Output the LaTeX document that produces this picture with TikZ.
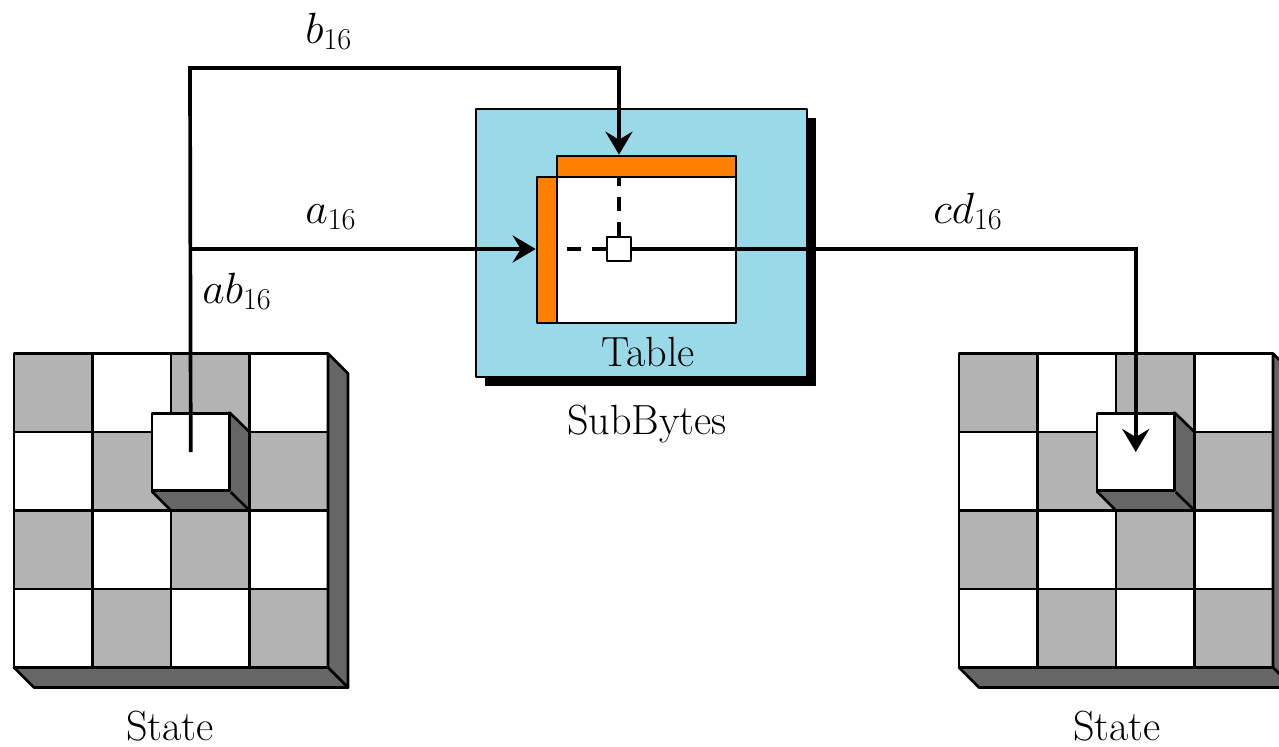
\documentclass[tikz,border=0pt]{standalone}
\usetikzlibrary{arrows.meta}

\definecolor{tablebg}{RGB}{154,217,232}
\definecolor{barorange}{RGB}{255,128,0}
\definecolor{cellgray}{RGB}{179,179,179}
\definecolor{sidegray}{RGB}{102,102,102}

\tikzset{
  wire/.style={line width=2.1pt},
  edge/.style={line width=1.5pt, line join=round},
  tip/.style={-{Stealth[length=0.46cm,width=0.54cm,inset=0.16cm]}},
  block/.style={draw, edge, fill=white, inner sep=0pt},
  bar/.style={draw, edge, fill=barorange, inner sep=0pt},
  lbl/.style={anchor=base west, inner sep=0pt},
  caption/.style={anchor=base, inner sep=0pt},
}

% one 4x4 state, #1 = name of its raised cell
\newcommand{\statebox}[1]{
  \foreach \r in {0,...,3}
    \foreach \c in {0,...,3} {
      \pgfmathparse{int(mod(\r+\c,2))}
      \ifnum\pgfmathresult=0 \def\cellfill{cellgray}\else\def\cellfill{white}\fi
      \filldraw[edge, fill=\cellfill] (78.5*\c,78.5*\r) rectangle ++(78.5,78.5);
    }
  \filldraw[edge, fill=sidegray] (314,0) -- (334,20) -- (334,334) -- (314,314) -- cycle;
  \filldraw[edge, fill=sidegray] (0,314) -- (20,334) -- (334,334) -- (314,314) -- cycle;
  % raised cell
  \filldraw[edge, fill=sidegray] (215.5,59) -- (235.5,78.5) -- (235.5,157) -- (157,157) -- (138,138) -- cycle;
  \node[block, minimum size=1.55cm] (#1) at (176.75,98.5) {};
  \draw[edge] (#1.south east) -- (235.5,157);
}

\begin{document}
\begin{tikzpicture}[x=0.02cm, y=-0.02cm, font=\fontsize{24}{28}\selectfont]
    \clip (0,0) rectangle (1279,747);

    % states
    \begin{scope}[shift={(14,353.5)}]
        \statebox{inL}
    \end{scope}
    \begin{scope}[shift={(959,353.5)}]
        \statebox{inR}
    \end{scope}
    \node[caption] (stateL) at (170,740) {State};
    \node[caption] (stateR) at (1117,740) {State};

    % SubBytes box with its table
    \fill (485,118) rectangle (816,386);
    \filldraw[edge, fill=tablebg] (476,109) rectangle (807,377);
    \node[block, minimum width=3.58cm, minimum height=2.92cm] (table) at (646.5,250) {};
    \node[bar, minimum width=3.58cm, minimum height=0.42cm] (colbar) at (646.5,166.5) {};
    \node[bar, minimum width=0.4cm, minimum height=2.92cm] (rowbar) at (547,250) {};
    \node[block, minimum size=0.48cm] (sel) at (619,249) {};
    \node[caption] (tablelbl) at (648,366) {Table};
    \node[caption] (sublbl) at (647,434) {SubBytes};

    % lookup
    \coordinate (btop) at (190,68);
    \draw[wire, tip] (inL.center) -- (btop) -| (sel |- colbar.north);
    \draw[wire, tip] (inL.center |- sel) -- (rowbar.west |- sel);
    \draw[wire, dash pattern=on 8pt off 6pt] (sel.west) -- (rowbar.east |- sel);
    \draw[wire, dash pattern=on 8pt off 6pt] (sel.north) -- (sel |- colbar.south);
    \draw[wire, tip] (sel.east) -| (inR.center);

    \node[lbl] (blbl) at (305,43) {$b_{16}$};
    \node[lbl] (albl) at (305,223) {$a_{16}$};
    \node[lbl] (ablbl) at (202,303) {$ab_{16}$};
    \node[lbl] (cdlbl) at (933,223) {$cd_{16}$};
\end{tikzpicture}
\end{document}
